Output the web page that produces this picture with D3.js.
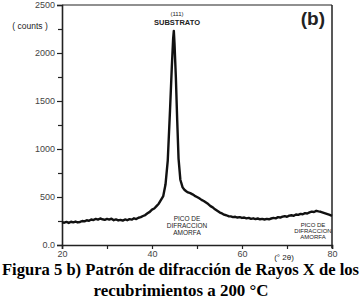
<!DOCTYPE html>
<html><head><meta charset="utf-8">
<script src="https://cdn.jsdelivr.net/npm/d3@7"></script>
<style>body{margin:0;background:#fff}svg{display:block}</style>
</head><body>
<script>
const twoTheta = [20,20.5,21,21.5,22,22.5,23,23.5,24,24.5,25,25.5,26,26.5,27,27.5,28,28.5,29,29.5,30,30.5,31,31.5,32,32.5,33,33.5,34,34.5,35,35.5,36,36.5,37,37.5,38,38.5,39,39.5,40,40.5,41,41.5,42,42.5,43,43.5,44,44.4,44.7,44.85,45,45.3,45.6,45.9,46.3,46.8,47.2,47.6,48,48.5,49,49.5,50,50.5,51,51.5,52,52.5,53,53.5,54,54.5,55,55.5,56,56.5,57,57.5,58,58.5,59,59.5,60,60.5,61,61.5,62,62.5,63,63.5,64,64.5,65,65.5,66,66.5,67,67.5,68,68.5,69,69.5,70,70.5,71,71.5,72,72.5,73,73.5,74,74.5,75,75.5,76,76.5,77,77.5,78,78.5,79,79.5,80];
const counts = [238,232,240,230,242,236,244,235,240,250,246,258,252,266,260,272,264,276,268,262,272,264,274,258,266,256,262,254,266,258,270,264,278,270,284,290,302,312,330,345,368,380,405,430,470,510,630,880,1400,1850,2150,2230,2100,1750,1300,900,680,600,575,560,548,540,528,512,500,486,470,458,442,426,405,392,372,356,340,330,316,310,300,298,290,294,286,290,282,286,278,282,272,278,270,276,268,272,266,272,268,276,282,278,290,286,296,300,294,306,310,304,318,314,324,320,332,328,340,348,344,356,350,346,338,330,322,314,304,296,280];
const xMajor = [20,40,60,80];
const xMinor = [30,50,70];
const yMajor = [0,500,1000,1500,2000,2500];
const yMajorLabels = ["0.0","500","1000","1500","2000","2500"];
const yMinor = [250,750,1250,1750,2250];

const W=363,H=303;
const svg=d3.select("body").append("svg").attr("width",W).attr("height",H);
const x=d3.scaleLinear().domain([20,80]).range([62,332]);
const y=d3.scaleLinear().domain([0,2500]).range([245,5]);
const ink="#222";

// frame
svg.append("line").attr("x1",x(20)).attr("x2",x(80)).attr("y1",y(2500)).attr("y2",y(2500)).attr("stroke",ink).attr("stroke-width",1.2);
svg.append("line").attr("x1",x(80)).attr("x2",x(80)).attr("y1",y(2500)).attr("y2",y(0)+3).attr("stroke",ink).attr("stroke-width",1.5);

// axes
svg.append("g").attr("transform",`translate(${x(20)},0)`)
 .call(d3.axisLeft(y).tickValues(yMajor).tickFormat((d,i)=>yMajorLabels[i]).tickSize(5).tickPadding(2));
svg.append("g").attr("transform",`translate(${x(20)},0)`)
 .call(d3.axisLeft(y).tickValues(yMinor).tickFormat("").tickSize(4)).select(".domain").remove();
svg.append("g").attr("transform",`translate(0,${y(0)})`)
 .call(d3.axisBottom(x).tickValues(xMajor).tickSize(4).tickPadding(2));
svg.append("g").attr("transform",`translate(0,${y(0)})`)
 .call(d3.axisBottom(x).tickValues(xMinor).tickFormat("").tickSize(4)).select(".domain").remove();
svg.selectAll(".domain").attr("stroke",ink).attr("stroke-width",1.6);
svg.selectAll(".tick line").attr("stroke",ink).attr("stroke-width",1.2);
svg.selectAll(".tick text").attr("font-family","Liberation Sans, Arial, sans-serif").attr("font-size",9).attr("fill","#444");

// curve
svg.append("path").datum(twoTheta.map((t,i)=>[t,counts[i]]))
 .attr("d",d3.line().x(d=>x(d[0])).y(d=>y(d[1])))
 .attr("fill","none").attr("stroke","#111").attr("stroke-width",2.4).attr("stroke-linejoin","round");

const sans="Liberation Sans, Arial, sans-serif";
function txt(s,tx,ty,size,anchor,weight){svg.append("text").attr("x",tx).attr("y",ty).attr("font-family",sans).attr("font-size",size).attr("text-anchor",anchor||"middle").attr("font-weight",weight||"normal").attr("fill","#222").text(s);}
txt("( counts )",30,29,8.5);
txt("(111)",177,16,6);
txt("SUBSTRATO",177,25,7.5,"middle","bold");
txt("PICO DE",187,221,6.5);
txt("DIFRACCION",187,228,6.5);
txt("AMORFA",187,235,6.5);
txt("PICO DE",313,227,6);
txt("DIFRACCION",313,233,6);
txt("AMORFA",313,239,6);
txt("(° 2θ)",284,260,8);
txt("(b)",325,25,19,"end","bold");

const serif="Liberation Serif, Times New Roman, serif";
svg.append("text").attr("x",2).attr("y",275).attr("font-family",serif).attr("font-size",16).attr("font-weight","bold")
 .attr("textLength",357).attr("lengthAdjust","spacingAndGlyphs").text("Figura 5 b) Patrón de difracción de Rayos X de los");
svg.append("text").attr("x",181).attr("y",296).attr("font-family",serif).attr("font-size",16).attr("font-weight","bold")
 .attr("text-anchor","middle").attr("textLength",175).attr("lengthAdjust","spacingAndGlyphs").text("recubrimientos a 200 °C");
</script>
</body></html>
